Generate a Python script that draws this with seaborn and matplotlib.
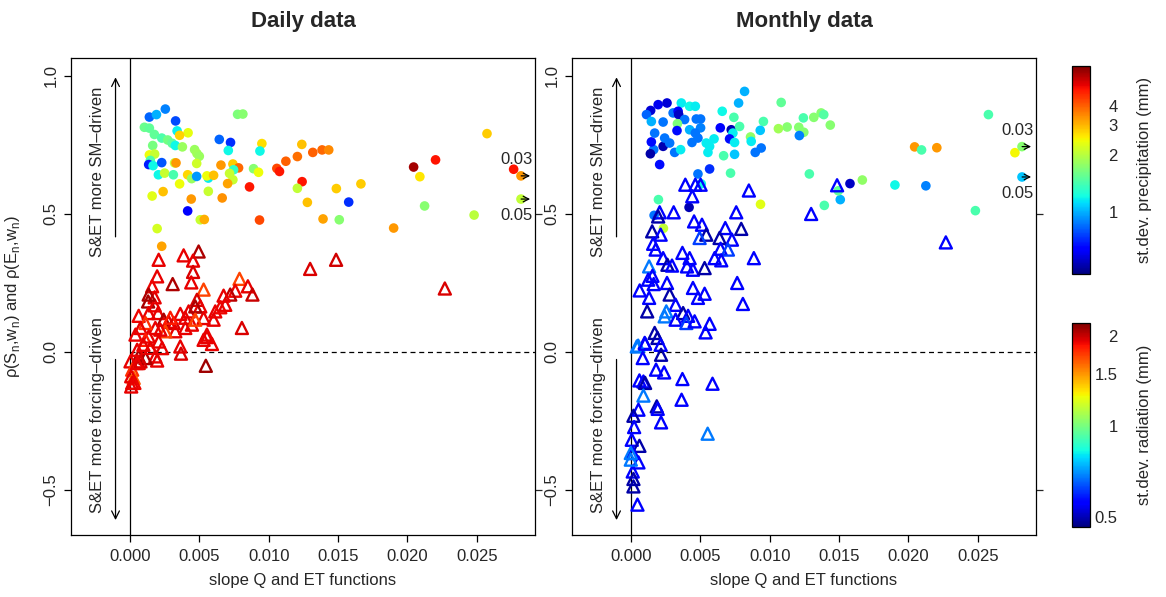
import numpy as np
import pandas as pd
import matplotlib
matplotlib.use("Agg")
import matplotlib.pyplot as plt
import seaborn as sns
from matplotlib.colors import FuncNorm, LogNorm
from matplotlib.cm import ScalarMappable

sns.set_style("white")
plt.rcParams["font.family"] = ["Liberation Sans", "DejaVu Sans"]
plt.rcParams["axes.unicode_minus"] = True

# ---------------- data ----------------
# Daily: circles (x = slope, y = rho, colour = st.dev. precipitation)
daily_c_x = [2.55, 1.40, 1.91, 3.29, 7.76, 8.14, 1.04, 1.40, 3.40, 4.19, 3.58, 1.76, 2.29, 2.72, 3.04,
             3.27, 3.78, 1.64, 6.44, 7.25, 9.51, 12.39, 4.66, 4.83, 5.00, 7.09, 9.37, 13.18, 12.07, 11.24,
             1.40, 1.78, 1.47, 1.35, 1.67, 2.29, 3.22, 3.32, 4.81, 6.56, 7.42, 7.83, 7.47, 8.91, 9.27,
             10.59, 10.78, 2.05, 2.50, 3.13, 4.16, 4.45, 4.81, 5.65, 5.55, 6.03, 7.18, 7.42, 7.04, 8.62,
             12.41, 12.07, 3.58, 1.60, 2.39, 5.65, 4.42, 6.65, 12.79, 4.16, 5.07, 5.36, 9.34, 1.96, 2.29,
             13.85, 14.33, 14.88, 16.65, 15.77, 13.92, 15.09, 19.01, 20.45, 22.03, 20.90, 21.24, 24.81,
             25.74, 27.66, 30.0, 50.0]
daily_c_y = [0.879, 0.850, 0.859, 0.836, 0.860, 0.861, 0.813, 0.810, 0.800, 0.793, 0.784, 0.787, 0.774,
             0.767, 0.755, 0.747, 0.742, 0.747, 0.769, 0.758, 0.754, 0.751, 0.732, 0.718, 0.708, 0.729,
             0.727, 0.722, 0.707, 0.690, 0.713, 0.716, 0.693, 0.678, 0.674, 0.685, 0.684, 0.684, 0.682,
             0.676, 0.680, 0.666, 0.659, 0.663, 0.650, 0.664, 0.653, 0.641, 0.647, 0.641, 0.641, 0.627,
             0.635, 0.629, 0.637, 0.639, 0.646, 0.623, 0.609, 0.597, 0.616, 0.592, 0.608, 0.564, 0.580,
             0.581, 0.553, 0.557, 0.541, 0.510, 0.478, 0.479, 0.477, 0.446, 0.382, 0.731, 0.731, 0.591,
             0.608, 0.542, 0.481, 0.478, 0.448, 0.669, 0.695, 0.634, 0.528, 0.495, 0.790, 0.661, 0.637,
             0.553]
daily_c_precip = [0.90, 0.85, 1.00, 0.80, 1.64, 1.70, 1.55, 1.50, 1.16, 2.35, 2.75, 1.50, 1.42, 1.60, 1.50,
                  1.18, 1.80, 1.62, 0.85, 0.75, 2.65, 2.90, 1.80, 1.85, 1.80, 1.18, 1.18, 4.0, 3.8, 4.0,
                  2.40, 2.10, 1.42, 0.72, 1.18, 0.82, 2.10, 3.30, 2.15, 3.30, 2.80, 3.90, 1.30, 1.70, 2.40,
                  4.4, 5.2, 1.18, 2.10, 1.40, 2.70, 1.80, 0.95, 1.15, 2.40, 2.90, 2.10, 2.10, 3.20, 5.2,
                  5.3, 2.05, 2.40, 2.30, 2.90, 2.10, 3.30, 3.40, 2.90, 0.68, 2.10, 3.10, 4.4, 2.20, 3.20,
                  3.9, 3.5, 2.80, 2.80, 0.75, 3.20, 1.70, 3.30, 7.0, 5.3, 2.60, 1.70, 2.00, 2.80, 5.3,
                  3.30, 2.05]

# Daily: triangles (colour = st.dev. radiation)
daily_t_x = [2.07, 3.87, 4.95, 4.55, 4.55, 4.42, 1.96, 1.60, 3.08, 5.31, 7.90, 8.50, 8.83, 7.59, 7.23,
             6.75, 8.07, 5.47, 1.78, 1.31, 1.78, 0.63, 1.35, 2.03, 2.43, 2.79, 3.15, 3.63, 4.23, 4.83,
             5.07, 5.31, 6.15, 6.51, 6.87, 6.03, 4.47, 3.99, 3.27, 2.55, 1.83, 1.12, 0.76, 0.40, 1.35,
             2.07, 2.32, 3.63, 3.68, 5.31, 5.55, 5.91, 1.83, 1.96, 0.63, 0.63, 0.04, 0.16, 0.27, 0.16,
             0.52, 1.12, 4.71, 1.35, 12.99, 14.86, 22.70, 5.55, 0.76, 0.52, 0.09, 0.32, 0.09, 2.91,
             3.99, 4.71, 2.19, 1.12, 0.97, 1.47]
daily_t_y = [0.333, 0.349, 0.363, 0.330, 0.289, 0.251, 0.273, 0.237, 0.245, 0.225, 0.264, 0.237, 0.207,
             0.221, 0.207, 0.203, 0.086, -0.051, 0.197, 0.182, 0.168, 0.130, 0.140, 0.140, 0.116, 0.108,
             0.104, 0.137, 0.146, 0.188, 0.164, 0.122, 0.146, 0.161, 0.170, 0.116, 0.098, 0.086, 0.074,
             0.074, 0.086, 0.104, 0.086, 0.062, 0.055, 0.037, 0.013, 0.019, -0.007, 0.043, 0.062, 0.028,
             -0.017, -0.032, -0.017, -0.041, -0.035, -0.065, -0.095, -0.113, 0.007, -0.023, 0.164, 0.207,
             0.300, 0.333, 0.229, 0.053, -0.035, -0.041, -0.089, -0.113, -0.126, 0.123, 0.123, 0.116,
             0.080, 0.043, 0.025, 0.014]
daily_t_rad = [1.92, 1.92, 2.07, 1.92, 1.95, 1.92, 1.92, 1.90, 2.07, 1.72, 1.72, 1.92, 2.00, 1.90, 2.03,
               1.92, 1.95, 2.11, 1.92, 2.09, 1.92, 1.90, 1.92, 1.92, 2.07, 1.92, 1.95, 1.92, 1.92, 1.95,
               1.92, 1.92, 1.92, 1.90, 1.92, 1.92, 1.92, 1.92, 1.92, 1.72, 1.92, 1.77, 1.92, 1.92, 1.92,
               1.92, 1.92, 1.92, 1.95, 1.92, 1.92, 1.92, 1.92, 1.92, 2.07, 1.92, 1.92, 1.77, 1.64, 1.92,
               1.92, 2.07, 2.07, 2.07, 1.95, 1.97, 1.95, 1.92, 1.95, 1.92, 1.92, 1.90, 1.92, 1.83, 1.92,
               1.72, 1.92, 1.83, 1.92, 1.92]

# Monthly: circles
monthly_c_x = [8.19, 7.76, 10.83, 3.63, 4.23, 4.64, 1.96, 2.60, 1.42, 1.12, 1.47, 3.04, 3.40, 3.44, 3.87,
               2.32, 3.35, 3.32, 4.23, 4.71, 5.02, 5.02, 4.64, 4.83, 4.40, 6.58, 7.42, 6.44, 7.23, 7.35,
               7.83, 7.11, 7.47, 8.62, 8.67, 9.55, 9.32, 9.39, 8.96, 7.47, 6.68, 5.67, 7.18, 4.83, 5.43,
               5.67, 5.99, 5.55, 3.15, 3.58, 2.32, 1.64, 1.40, 1.47, 1.71, 2.07, 2.79, 2.43, 12.10, 12.43,
               13.18, 11.26, 10.63, 12.46, 12.14, 12.86, 13.71, 13.90, 14.37, 9.34, 13.94, 15.09, 14.95,
               15.79, 16.68, 19.03, 21.26, 20.45, 20.95, 22.05, 25.77, 24.83, 27.68, 30.0, 50.0, 4.19,
               1.98, 1.67, 2.34, 5.07]
monthly_c_y = [0.943, 0.901, 0.903, 0.901, 0.889, 0.889, 0.895, 0.901, 0.874, 0.859, 0.834, 0.865, 0.871,
               0.859, 0.841, 0.832, 0.826, 0.801, 0.804, 0.843, 0.843, 0.811, 0.792, 0.774, 0.758, 0.871,
               0.849, 0.811, 0.804, 0.792, 0.816, 0.771, 0.758, 0.778, 0.762, 0.834, 0.802, 0.738, 0.722,
               0.715, 0.710, 0.662, 0.647, 0.644, 0.756, 0.744, 0.771, 0.722, 0.722, 0.732, 0.744, 0.732,
               0.717, 0.760, 0.792, 0.678, 0.756, 0.774, 0.813, 0.847, 0.849, 0.814, 0.808, 0.795, 0.783,
               0.644, 0.865, 0.859, 0.821, 0.534, 0.530, 0.551, 0.583, 0.609, 0.622, 0.604, 0.601, 0.742,
               0.731, 0.739, 0.859, 0.511, 0.721, 0.743, 0.633, 0.523, 0.551, 0.494, 0.447, 0.608]
monthly_c_precip = [1.0, 1.0, 1.5, 1.15, 1.18, 1.15, 0.65, 0.62, 0.62, 0.85, 1.0, 0.88, 0.68, 0.6, 0.88,
                    0.88, 1.65, 0.7, 1.0, 0.88, 0.88, 0.9, 0.88, 0.88, 0.88, 1.18, 1.4, 0.68, 0.58, 1.15,
                    1.4, 0.7, 1.15, 1.75, 1.15, 1.4, 1.05, 0.88, 0.88, 1.05, 1.4, 0.75, 1.4, 0.88, 1.15,
                    1.15, 1.15, 1.15, 0.88, 1.15, 0.58, 0.88, 0.57, 0.7, 0.88, 0.7, 0.88, 0.88, 1.7, 1.4,
                    1.7, 1.7, 1.85, 1.7, 0.9, 1.4, 1.7, 1.45, 1.7, 2.3, 1.4, 1.0, 1.5, 0.6, 1.75, 1.18,
                    0.9, 3.3, 1.4, 3.3, 1.4, 1.4, 2.45, 1.7, 1.05, 0.58, 1.4, 0.88, 2.05, 1.18]

# Monthly: triangles
monthly_t_x = [3.92, 4.64, 5.02, 4.42, 8.50, 2.07, 3.08, 7.59, 1.96, 4.55, 5.12, 5.43, 4.95, 1.53, 2.14,
               6.80, 7.95, 6.39, 7.28, 1.60, 1.78, 6.46, 6.99, 3.71, 4.23, 6.03, 6.51, 8.86, 2.32, 2.63,
               2.96, 1.31, 4.04, 4.47, 5.31, 1.55, 1.24, 1.64, 2.60, 0.63, 1.31, 2.79, 4.47, 5.31, 4.83,
               7.66, 3.22, 1.17, 2.55, 2.43, 3.76, 4.12, 3.22, 3.99, 4.59, 5.67, 5.38, 8.07, 1.71, 1.91,
               0.99, 0.52, 2.14, 0.42, 1.02, 0.85, 2.17, 1.81, 2.39, 3.71, 5.88, 0.61, 0.90, 1.02, 0.90,
               3.65, 1.86, 1.93, 0.54, 0.18, 2.17, 5.53, 0.23, 0.06, 0.61, 0.13, 0.54, 0.13, 0.18, 0.18,
               0.47, -0.01, -0.01, 14.86, 12.99, 22.70]
monthly_t_y = [0.605, 0.605, 0.605, 0.563, 0.584, 0.505, 0.505, 0.505, 0.490, 0.472, 0.460, 0.424, 0.412,
               0.436, 0.424, 0.448, 0.445, 0.412, 0.406, 0.391, 0.370, 0.373, 0.370, 0.358, 0.339, 0.339,
               0.331, 0.339, 0.339, 0.315, 0.312, 0.309, 0.309, 0.297, 0.303, 0.275, 0.261, 0.245, 0.249,
               0.222, 0.195, 0.207, 0.231, 0.210, 0.195, 0.249, 0.170, 0.146, 0.146, 0.128, 0.140, 0.130,
               0.116, 0.104, 0.110, 0.101, 0.070, 0.173, 0.068, 0.050, 0.032, 0.022, 0.025, 0.019, 0.029,
               -0.023, -0.011, -0.065, -0.075, -0.099, -0.116, -0.104, -0.108, -0.113, -0.159, -0.174,
               -0.198, -0.207, -0.210, -0.232, -0.256, -0.297, -0.273, -0.319, -0.341, -0.367, -0.401,
               -0.434, -0.461, -0.488, -0.554, -0.367, -0.391, 0.603, 0.499, 0.396]
monthly_t_rad = [0.56, 0.56, 0.56, 0.56, 0.56, 0.56, 0.56, 0.56, 0.49, 0.56, 0.56, 0.49, 0.62, 0.49, 0.56,
                 0.56, 0.49, 0.49, 0.56, 0.56, 0.56, 0.56, 0.62, 0.56, 0.56, 0.56, 0.56, 0.56, 0.56, 0.49,
                 0.56, 0.68, 0.56, 0.56, 0.49, 0.56, 0.56, 0.56, 0.56, 0.56, 0.56, 0.49, 0.56, 0.56, 0.56,
                 0.56, 0.56, 0.49, 0.68, 0.68, 0.49, 0.56, 0.56, 0.62, 0.56, 0.56, 0.56, 0.56, 0.49, 0.49,
                 0.56, 0.68, 0.56, 0.68, 0.56, 0.56, 0.49, 0.56, 0.56, 0.56, 0.56, 0.56, 0.56, 0.49, 0.68,
                 0.56, 0.49, 0.56, 0.56, 0.49, 0.56, 0.68, 0.56, 0.56, 0.49, 0.56, 0.56, 0.56, 0.49, 0.49,
                 0.56, 0.68, 0.68, 0.56, 0.56, 0.56]

panel_titles = ["Daily data", "Monthly data"]
x_ticks = [0.000, 0.005, 0.010, 0.015, 0.020, 0.025]
y_ticks = [-0.5, 0.0, 0.5, 1.0]
precip_ticks = [1, 2, 3, 4]
rad_ticks = [0.5, 1, 1.5, 2]

# ---------------- layout ----------------
W, H = 1166, 597
fig = plt.figure(figsize=(W / 100, H / 100), dpi=100)
XLIM = (-0.00425, 0.0292)
YLIM = (-0.664, 1.064)
XCLIP = 0.02819

cmap = matplotlib.colormaps["jet"]
pnorm = FuncNorm((lambda v: -np.power(v, -0.25), lambda t: np.power(-t, -4.0)), vmin=0.531, vmax=7.93)
rnorm = LogNorm(vmin=0.463, vmax=2.21)

panels = [
    (daily_c_x, daily_c_y, daily_c_precip, daily_t_x, daily_t_y, daily_t_rad),
    (monthly_c_x, monthly_c_y, monthly_c_precip, monthly_t_x, monthly_t_y, monthly_t_rad),
]
lefts = [71, 572]

for i, (cx, cy, cp, tx, ty, tr) in enumerate(panels):
    ax = fig.add_axes([lefts[i] / W, 1 - 535 / H, 464 / W, 477 / H])
    cx = np.array(cx) * 1e-3
    tx = np.array(tx) * 1e-3
    circ = pd.DataFrame({"x": np.minimum(cx, XCLIP), "y": cy, "p": cp})
    tri = pd.DataFrame({"x": np.minimum(tx, XCLIP), "y": ty, "r": tr})

    ax.axvline(0, color="black", lw=0.9, zorder=1)
    ax.plot([0, XLIM[1]], [0, 0], color="black", lw=0.9, ls=(0, (4, 3)), zorder=1)

    sns.scatterplot(data=circ, x="x", y="y", hue="p", palette=cmap, hue_norm=pnorm,
                    s=48, linewidth=0, legend=False, ax=ax, zorder=3)
    sns.scatterplot(data=tri, x="x", y="y", hue="r", palette=cmap, hue_norm=rnorm,
                    marker="^", s=75, legend=False, ax=ax, zorder=4)
    coll = ax.collections[-1]
    fc = coll.get_facecolors()
    coll.set_edgecolors(fc)
    coll.set_facecolors("none")
    coll.set_linewidth(1.7)

    # arrows for points beyond the x-range
    clipped = [(v, yy) for v, yy in zip(cx, cy) if v > XCLIP]
    clipped.sort(key=lambda t: -t[1])
    for k, (v, yy) in enumerate(clipped):
        ax.annotate("", xy=(0.02905, yy), xytext=(0.02800, yy),
                    arrowprops=dict(arrowstyle="->", color="black", lw=0.9, mutation_scale=10))
        off = 0.060 if k == 0 else -0.060
        ax.text(0.02788, yy + off, f"{v:.2f}", ha="center", va="center", fontsize=12)

    # side annotations
    ax.annotate("", xy=(-0.00104, 1.004), xytext=(-0.00104, 0.406),
                arrowprops=dict(arrowstyle="->", color="black", lw=0.9, mutation_scale=14))
    ax.annotate("", xy=(-0.00104, -0.62), xytext=(-0.00104, -0.018),
                arrowprops=dict(arrowstyle="->", color="black", lw=0.9, mutation_scale=14))
    ax.text(-0.00234, 0.652, "S&ET more SM–driven", rotation=90, ha="center", va="center", fontsize=12)
    ax.text(-0.00234, -0.228, "S&ET more forcing–driven", rotation=90, ha="center", va="center", fontsize=12)

    ax.set_xlim(*XLIM)
    ax.set_ylim(*YLIM)
    ax.set_xticks(x_ticks)
    ax.set_xticklabels([f"{v:.3f}" for v in x_ticks])
    ax.set_yticks(y_ticks)
    ax.set_yticklabels([f"{v:.1f}".replace("-", "\u2212") for v in y_ticks])
    ax.tick_params(axis="both", direction="out", length=5, width=0.9, labelsize=12, color="black",
                   left=True, bottom=True)
    ax.tick_params(axis="x", pad=5)
    ax.tick_params(axis="y", pad=4, labelrotation=90)
    for lab in ax.get_yticklabels():
        lab.set_va("center")
    for sp in ax.spines.values():
        sp.set_color("black")
        sp.set_linewidth(0.9)
    sec = ax.secondary_yaxis("right")
    sec.set_yticks([-0.5, 0.5])
    sec.set_yticklabels(["", ""])
    sec.tick_params(direction="out", length=5, width=0.9)
    sec.spines["right"].set_visible(False)

    ax.set_xlabel("slope Q and ET functions", fontsize=12)
    ax.xaxis.set_label_coords(0.5, -(580 - 535) / 477)
    ax.xaxis.label.set_va("center")
    ax.set_ylabel("")
    ax.text(0.5, 1 + (58 - 22) / 477, panel_titles[i], transform=ax.transAxes,
            ha="center", va="center", fontsize=16, fontweight="bold")
    if i == 0:
        ax.set_ylabel("ρ(S$_\\mathregular{n}$,w$_\\mathregular{n}$) and ρ(E$_\\mathregular{n}$,w$_\\mathregular{n}$)",
                      fontsize=12)
        ax.yaxis.set_label_coords(-(71 - 12) / 464, 0.5)
        ax.yaxis.label.set_va("center")

# ---------------- colour bars ----------------
cb_specs = [
    (66, 274, pnorm, precip_ticks, ["1", "2", "3", "4"], "st.dev. precipitation (mm)"),
    (323, 527, rnorm, rad_ticks, ["0.5", "1", "1.5", "2"], "st.dev. radiation (mm)"),
]
for top, bot, norm, ticks, labels, title in cb_specs:
    cax = fig.add_axes([1072 / W, 1 - bot / H, 18 / W, (bot - top) / H])
    cb = fig.colorbar(ScalarMappable(norm=norm, cmap=cmap), cax=cax)
    cb.ax.minorticks_off()
    cb.set_ticks(ticks)
    cb.set_ticklabels(labels)
    cb.ax.minorticks_off()
    cb.ax.tick_params(length=0, labelsize=12, pad=20)
    for lab in cb.ax.get_yticklabels():
        lab.set_ha("right")
    cb.outline.set_linewidth(0.9)
    cb.outline.set_edgecolor("black")
    cb.set_label(title, fontsize=12)
    cb.ax.yaxis.set_label_coords((1145 - 1072) / 18, 0.5)
    cb.ax.yaxis.label.set_va("center")

fig.savefig("out.png", dpi=100, facecolor="white")
